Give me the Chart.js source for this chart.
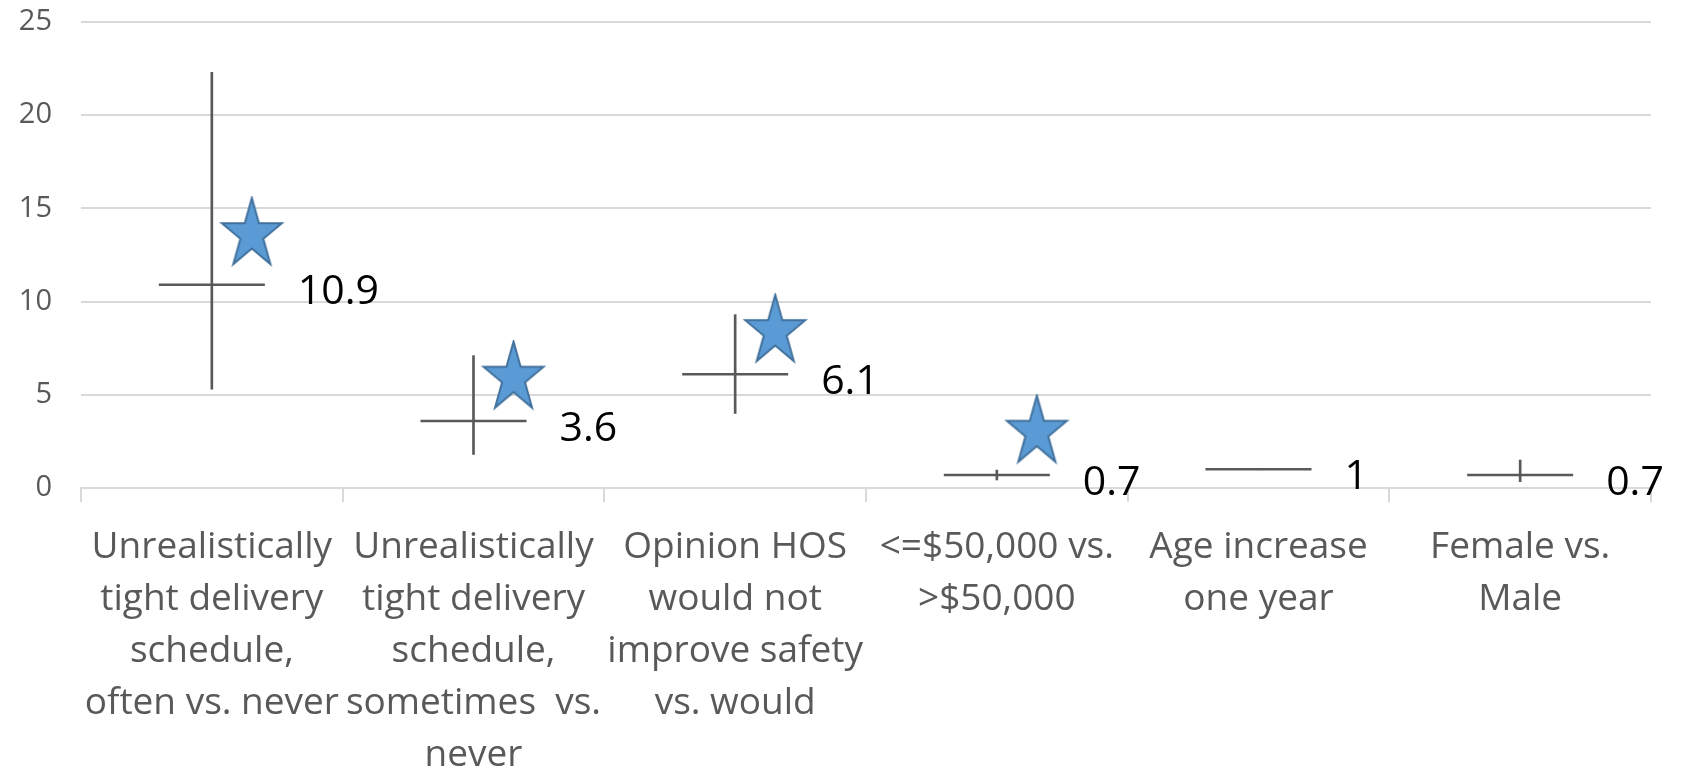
<!DOCTYPE html>
<html>
<head>
<meta charset="utf-8">
<title>Odds ratios</title>
<script src="https://cdn.jsdelivr.net/npm/chart.js@4.4.1/dist/chart.umd.min.js"></script>
<style>
  html, body { margin: 0; padding: 0; background: #fff; }
  #wrap { width: 1685px; height: 767px; }
</style>
</head>
<body>
<div id="wrap"><canvas id="orChart" width="1685" height="767"></canvas></div>
<script>
// categories (wrapped into lines for the axis)
const categories = [
  ['Unrealistically', 'tight delivery', 'schedule,', 'often vs. never'],
  ['Unrealistically', 'tight delivery', 'schedule,', 'sometimes  vs.', 'never'],
  ['Opinion HOS', 'would not', 'improve safety', 'vs. would'],
  ['<=$50,000 vs.', '>$50,000'],
  ['Age increase', 'one year'],
  ['Female vs.', 'Male']
];

// odds ratio and 95% confidence interval
const oddsRatio = [10.9, 3.6, 6.1, 0.7, 1, 0.7];
const ciLow = [5.3, 1.8, 4.0, 0.43, 0.98, 0.34];
const ciHigh = [22.3, 7.1, 9.3, 0.96, 1.02, 1.5];

// significance stars
const starLevel = [13.6, 5.9, 8.4, 3.0, null, null];

const yTicks = [0, 5, 10, 15, 20, 25];

const GREY = '#595959';
const GRID = '#d9d9d9';
const FONT = '"Open Sans", sans-serif';
const STAR_SHIFT = 0.153; // stars sit a bit right of the category centre

// star marker drawn once on a small canvas
function makeStar(rx, ry) {
  const c = document.createElement('canvas');
  c.width = Math.ceil(rx * 2 + 4);
  c.height = Math.ceil(ry * 2 + 4);
  const g = c.getContext('2d');
  const cx = c.width / 2, cy = c.height / 2;
  const inner = 0.382;
  g.beginPath();
  for (let i = 0; i < 10; i++) {
    const a = -Math.PI / 2 + i * Math.PI / 5;
    const r = i % 2 === 0 ? 1 : inner;
    const px = cx + Math.cos(a) * rx * r;
    const py = cy + Math.sin(a) * ry * r;
    if (i === 0) g.moveTo(px, py); else g.lineTo(px, py);
  }
  g.closePath();
  g.fillStyle = '#5b9bd5';
  g.fill();
  g.lineWidth = 2;
  g.strokeStyle = '#41719c';
  g.lineJoin = 'miter';
  g.stroke();
  return c;
}
const starImg = makeStar(31.5, 36.5);

const ciRanges = ciLow.map((lo, i) => [lo, ciHigh[i]]);
const starPoints = starLevel
  .map((v, i) => (v === null ? null : { x: i + STAR_SHIFT, y: v }))
  .filter(p => p !== null);

// value labels to the right of each estimate
const valueLabels = {
  id: 'valueLabels',
  afterDatasetsDraw(chart) {
    const meta = chart.getDatasetMeta(1);
    const ctx = chart.ctx;
    ctx.save();
    ctx.font = '41px ' + FONT;
    ctx.fillStyle = '#000';
    ctx.textAlign = 'left';
    ctx.textBaseline = 'middle';
    meta.data.forEach((pt, i) => {
      ctx.fillText(String(oddsRatio[i]), pt.x + 86, pt.y + 8);
    });
    ctx.restore();
  }
};

const ctx = document.getElementById('orChart').getContext('2d');
new Chart(ctx, {
  data: {
    labels: categories,
    datasets: [
      {
        type: 'scatter',
        data: starPoints,
        xAxisID: 'x2',
        pointStyle: starImg,
        pointRadius: 3
      },
      {
        type: 'line',
        data: oddsRatio,
        showLine: false,
        pointStyle: 'line',
        pointRadius: 53,
        pointBorderWidth: 2.5,
        pointBorderColor: GREY,
        pointBackgroundColor: GREY
      },
      {
        type: 'bar',
        data: ciRanges,
        barThickness: 2,
        backgroundColor: GREY,
        grouped: false
      }
    ]
  },
  options: {
    responsive: false,
    animation: false,
    layout: {
      autoPadding: false,
      padding: { top: 22, right: 34, left: 0, bottom: 0 }
    },
    plugins: {
      legend: { display: false },
      tooltip: { enabled: false }
    },
    scales: {
      x: {
        type: 'category',
        offset: true,
        grid: {
          offset: true,
          drawOnChartArea: false,
          drawTicks: true,
          tickLength: 14,
          color: GRID,
          lineWidth: 2
        },
        border: { color: GRID, width: 2 },
        ticks: {
          color: GREY,
          font: { family: FONT, size: 37, lineHeight: 1.4 },
          padding: 20,
          maxRotation: 0,
          minRotation: 0,
          autoSkip: false
        },
        afterFit(scale) {
          scale.height = 279;
          scale.paddingLeft = 0;
          scale.paddingRight = 0;
        }
      },
      x2: {
        type: 'linear',
        display: false,
        min: -0.5,
        max: 5.5
      },
      y: {
        min: 0,
        max: 25,
        afterBuildTicks(scale) {
          scale.ticks = yTicks.map(v => ({ value: v }));
        },
        grid: { color: GRID, lineWidth: 2, drawTicks: false },
        border: { display: false },
        ticks: {
          color: GREY,
          font: { family: FONT, size: 29 },
          padding: 29
        },
        afterFit(scale) {
          scale.width = 81;
          scale.paddingTop = 0;
          scale.paddingBottom = 0;
        }
      }
    }
  },
  plugins: [valueLabels]
});
</script>
</body>
</html>
